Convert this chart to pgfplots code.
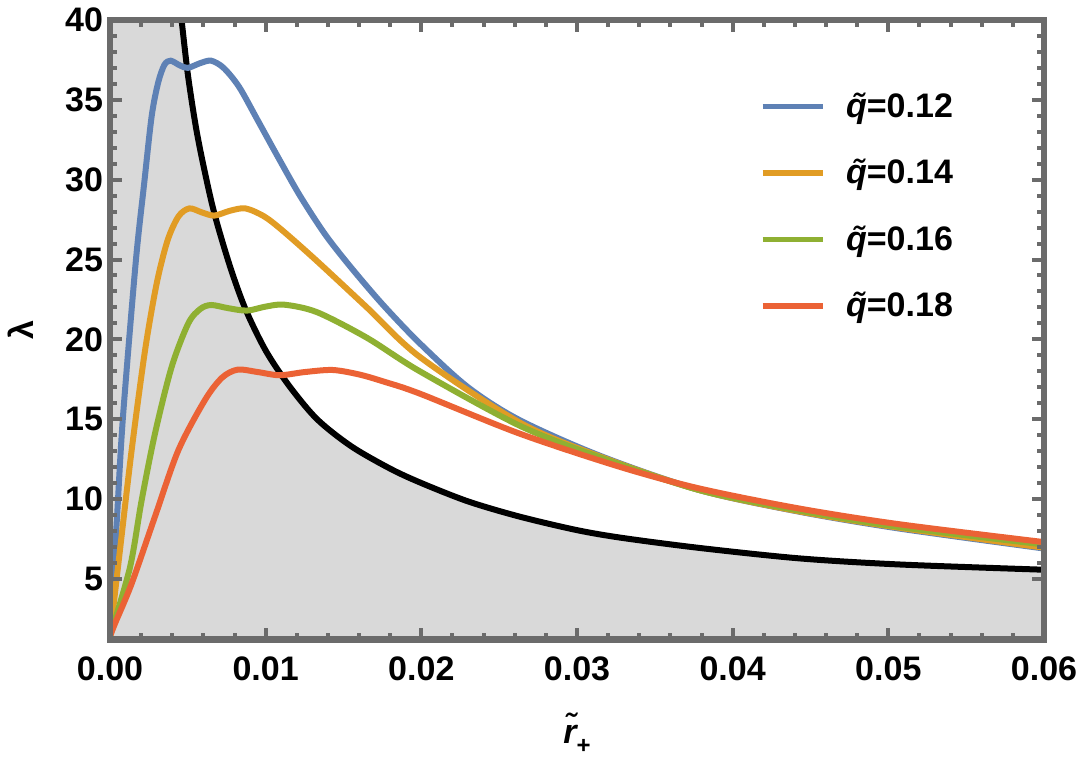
\documentclass[border=0pt]{standalone}
\usepackage{fontspec}
\setmainfont{Liberation Sans}
\usepackage{pgfplots}
\pgfplotsset{compat=1.18}

\definecolor{qblue}{HTML}{5E81B5}
\definecolor{qorange}{HTML}{E19C24}
\definecolor{qgreen}{HTML}{8FB032}
\definecolor{qred}{HTML}{EB6235}
\definecolor{framegray}{HTML}{6B6B6B}
\definecolor{shade}{HTML}{D9D9D9}

% black boundary curve
\pgfplotstableread{
r       lam
0.0046  40.0
0.0050  36.6
0.0055  33.4
0.0060  30.9
0.0067  27.9
0.0077  24.6
0.0087  21.9
0.0100  19.3
0.0115  17.1
0.0133  15.0
0.0155  13.3
0.0180  11.9
0.0200  11.0
0.0230  9.85
0.0263  8.9
0.0300  8.05
0.0330  7.55
0.0380  6.92
0.0443  6.28
0.0507  5.9
0.0600  5.57
}\boundary

% q = 0.12
\pgfplotstableread{
r       lam
0       1.4
0.00045 8.85
0.00083 15.1
0.00165 24.8
0.0022  29.8
0.00268 34.0
0.0031  36.1
0.0035  37.2
0.0039  37.45
0.0045  37.15
0.0050  37.0
0.0058  37.3
0.0065  37.45
0.0073  37.0
0.0083  35.8
0.0095  33.7
0.0108  31.4
0.0122  29.0
0.0138  26.6
0.0154  24.6
0.0175  22.2
0.0199  19.75
0.0230  17.0
0.0263  14.95
0.0315  12.7
0.0379  10.55
0.0443  9.2
0.0507  8.15
0.06    6.9
}\qa

% q = 0.14
\pgfplotstableread{
r       lam
0       1.4
0.00064 6.8
0.00139 13.05
0.00225 19.3
0.0030  23.5
0.0037  26.2
0.0044  27.7
0.0051  28.2
0.0059  27.95
0.0067  27.75
0.0077  28.05
0.0087  28.2
0.0099  27.7
0.0111  26.8
0.0133  24.9
0.0165  22.0
0.0199  18.9
0.0263  14.8
0.0315  12.65
0.0379  10.55
0.0443  9.22
0.0507  8.2
0.06    6.95
}\qb

% q = 0.16
\pgfplotstableread{
r       lam
0       1.4
0.00128 5.7
0.00203 9.9
0.00289 14.1
0.00396 18.27
0.00503 21.0
0.0058  21.9
0.0065  22.15
0.0076  21.95
0.0088  21.8
0.0100  22.05
0.0112  22.17
0.0133  21.7
0.0165  20.1
0.0199  18.0
0.0263  14.6
0.0315  12.6
0.0379  10.55
0.0443  9.27
0.0507  8.25
0.06    7.15
}\qc

% q = 0.18
\pgfplotstableread{
r       lam
0       1.4
0.00032 2.2
0.00139 4.7
0.00289 8.9
0.00439 13.05
0.0061  16.2
0.0072  17.6
0.0082  18.1
0.0095  17.95
0.0109  17.75
0.0125  17.95
0.0143  18.08
0.0160  17.8
0.0176  17.35
0.0199  16.6
0.0263  14.1
0.0328  12.0
0.0379  10.65
0.0443  9.4
0.0507  8.42
0.06    7.3
}\qd

\begin{document}
\begin{tikzpicture}
\useasboundingbox (-55pt,-58.5pt) rectangle (485pt,319.75pt);
\begin{axis}[
    at={(0,0)}, anchor=south west,
    scale only axis,
    width=467pt, height=309.75pt,
    xmin=0, xmax=0.06,
    ymin=1.2, ymax=40,
    xtick={0,0.01,0.02,0.03,0.04,0.05,0.06},
    xticklabels={0.00,0.01,0.02,0.03,0.04,0.05,0.06},
    scaled x ticks=false,
    ytick={5,10,15,20,25,30,35,40},
    minor x tick num=4,
    minor y tick num=4,
    tick align=inside,
    major tick length=6pt,
    minor tick length=3.5pt,
    tick style={framegray, line width=2pt},
    axis line style={framegray, line width=3.3pt},
    axis on top,
    /pgf/number format/assume math mode=true,
    tick label style={font=\bfseries\fontsize{17}{20}\selectfont},
    xticklabel style={yshift=-5pt},
    label style={font=\bfseries\fontsize{17}{20}\selectfont},
    xlabel={{\itshape\~{r}}\raisebox{-5pt}{\fontsize{12}{12}\selectfont +}},
    ylabel={λ},
    xlabel style={at={(axis description cs:0.5,0)}, anchor=center, yshift=-47pt},
    ylabel style={at={(axis description cs:-0.0953,0.5)}, anchor=center},
    legend style={at={(0.689,0.896)}, anchor=north west, draw=none, fill=none,
        font=\bfseries\fontsize{17}{20}\selectfont, row sep=15.5pt, column sep=8.5pt},
    legend cell align=left,
    legend image code/.code={\draw[#1, line width=2.6pt] (0pt,0pt) -- (30pt,0pt);},
]
% shaded region below the boundary
\addplot[fill=shade, draw=none, forget plot] coordinates {(0,0) (0,45) (0.00468,45) (0.00468,0)} \closedcycle;
\addplot[fill=shade, draw=none, smooth, forget plot] table[x=r, y=lam] {\boundary} \closedcycle;
\addplot[black, line width=3pt, smooth, forget plot] table[x=r, y=lam] {\boundary};

\addplot[qblue, line width=3pt, smooth] table[x=r, y=lam] {\qa};
\addplot[qorange, line width=3pt, smooth] table[x=r, y=lam] {\qb};
\addplot[qgreen, line width=3pt, smooth] table[x=r, y=lam] {\qc};
\addplot[qred, line width=3pt, smooth] table[x=r, y=lam] {\qd};

\legend{{\itshape\~{q}}=0.12, {\itshape\~{q}}=0.14, {\itshape\~{q}}=0.16, {\itshape\~{q}}=0.18}
\end{axis}
\end{tikzpicture}
\end{document}
